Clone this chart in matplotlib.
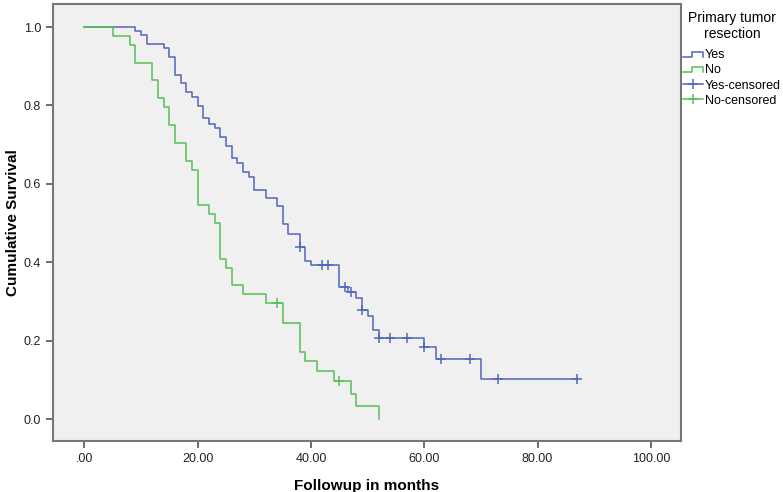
import matplotlib
matplotlib.use('Agg')
import matplotlib.pyplot as plt
from matplotlib.lines import Line2D
from matplotlib.legend_handler import HandlerBase

plt.rcParams['font.family'] = ['Liberation Sans', 'DejaVu Sans']

# Curva "Yes" (resección del tumor primario)
t_yes = [9, 10, 11, 14, 15, 16, 17, 18, 19, 20, 21, 22, 23, 24, 25, 26, 27, 28, 29, 30,
         32, 34, 35, 36, 38, 39, 40, 45, 46.6, 48, 49, 50, 51, 52, 60, 62, 70]
s_yes = [0.991, 0.980, 0.957, 0.946, 0.924, 0.879, 0.858, 0.835, 0.821, 0.798, 0.767,
         0.754, 0.742, 0.720, 0.697, 0.665, 0.652, 0.631, 0.618, 0.584, 0.563, 0.543,
         0.497, 0.473, 0.440, 0.403, 0.392, 0.338, 0.325, 0.308, 0.278, 0.264, 0.227,
         0.208, 0.184, 0.153, 0.102]
t_yes_cens = [38, 42, 43, 46, 47, 49, 52, 54, 57, 60, 63, 68, 73, 87]
s_yes_cens = [0.440, 0.392, 0.392, 0.338, 0.325, 0.278, 0.208, 0.208, 0.208, 0.184,
              0.153, 0.153, 0.102, 0.102]

# Curva "No"
t_no = [5, 8, 9, 12, 13, 14, 15, 16, 18, 19, 20, 22, 23, 24, 25, 26, 28, 32, 35, 38,
        39, 41, 44, 47, 48, 52]
s_no = [0.977, 0.955, 0.909, 0.864, 0.818, 0.795, 0.750, 0.705, 0.659, 0.636, 0.545,
        0.523, 0.500, 0.409, 0.386, 0.341, 0.318, 0.295, 0.246, 0.172, 0.148, 0.123,
        0.098, 0.065, 0.033, 0.0]
t_no_cens = [34, 45]
s_no_cens = [0.295, 0.098]

x_ticks = [0, 20, 40, 60, 80, 100]
x_labels = ['.00', '20.00', '40.00', '60.00', '80.00', '100.00']
y_ticks = [0.0, 0.2, 0.4, 0.6, 0.8, 1.0]

azul = '#5066ba'
verde = '#55c055'


class HandlerEscalon(HandlerBase):
    # dibuja el pequeño escalón que usa SPSS en la leyenda
    def create_artists(self, legend, orig_handle, xd, yd, w, h, fontsize, trans):
        lo, hi = yd + h * 0.15, yd + h * 0.75
        xs = [xd, xd + w * 0.45, xd + w * 0.45, xd + w, xd + w]
        ys = [lo, lo, hi, hi, lo]
        l = Line2D(xs, ys, color=orig_handle.get_color(), lw=1.1, transform=trans)
        return [l]


fig = plt.figure(figsize=(7.83, 4.92), dpi=100)
ax = fig.add_axes([0.0677, 0.1037, 0.802, 0.8882])
ax.set_facecolor('#f0f0f0')

ax.step([0] + t_yes + [87], [1.0] + s_yes + [s_yes[-1]], where='post', color=azul, lw=1.1)
ax.step([0] + t_no, [1.0] + s_no, where='post', color=verde, lw=1.1)
ax.plot(t_yes_cens, s_yes_cens, linestyle='none', marker='+', ms=7.5, mew=1.1, color=azul)
ax.plot(t_no_cens, s_no_cens, linestyle='none', marker='+', ms=7.5, mew=1.1, color=verde)

ax.set_xlim(-5.5, 105.3)
ax.set_ylim(-0.056, 1.059)
ax.set_xticks(x_ticks)
ax.set_xticklabels(x_labels)
ax.set_yticks(y_ticks)
ax.set_yticklabels(['%.1f' % v for v in y_ticks])
ax.tick_params(direction='out', length=5, width=1.2, color='#555555', labelsize=9,
               labelcolor='#222222')
for sp in ax.spines.values():
    sp.set_color('#777777')
    sp.set_linewidth(1.5)

ax.set_xlabel('Followup in months', fontsize=11, fontweight='bold', labelpad=10)
ax.set_ylabel('Cumulative Survival', fontsize=11, fontweight='bold')
ax.yaxis.set_label_coords(-0.052, 0.5)

h_yes = Line2D([], [], color=azul)
h_no = Line2D([], [], color=verde)
h_yes_c = Line2D([], [], color=azul, marker='+', ms=7.5, mew=1.1, lw=1.1)
h_no_c = Line2D([], [], color=verde, marker='+', ms=7.5, mew=1.1, lw=1.1)
leg = fig.legend([h_yes, h_no, h_yes_c, h_no_c],
                 ['Yes', 'No', 'Yes-censored', 'No-censored'],
                 title='Primary tumor\nresection', loc='upper left',
                 bbox_to_anchor=(0.8723, 0.978), frameon=False, fontsize=9,
                 title_fontsize=10, handlelength=1.6, handletextpad=0.15,
                 labelspacing=0.25, borderaxespad=0, borderpad=0,
                 handler_map={h_yes: HandlerEscalon(), h_no: HandlerEscalon()})
leg._legend_box.align = 'center'
leg.get_title().set_multialignment('center')
leg._legend_box.sep = 6

fig.savefig('out.png', dpi=100)
